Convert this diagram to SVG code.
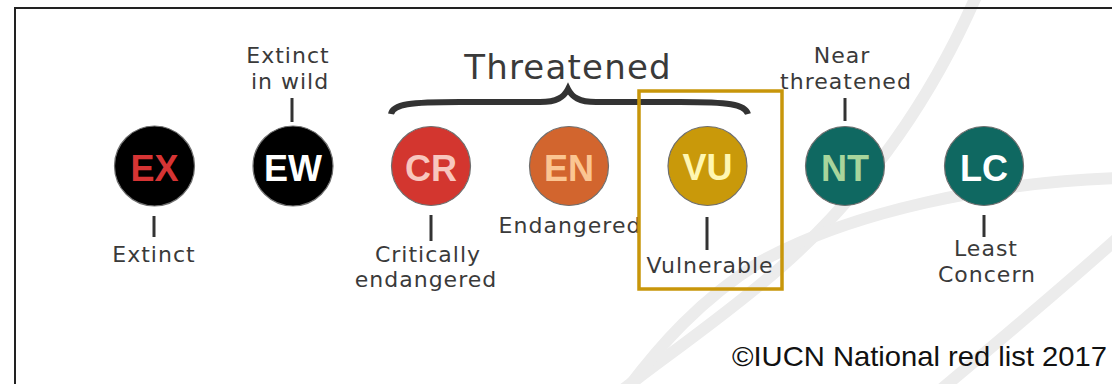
<svg xmlns="http://www.w3.org/2000/svg" width="1112" height="384" viewBox="0 0 1112 384">
  <style>
    .lbl { font-family: "DejaVu Sans", Verdana, sans-serif; font-size: 22px; letter-spacing: 1px; fill: #3a3a3a; text-anchor: middle; }
    .code { font-family: "Liberation Sans", Arial, sans-serif; font-weight: bold; font-size: 36px; text-anchor: middle; }
    .disc { stroke: #6f6f6f; stroke-width: 1.2; }
    .tick { stroke: #333; stroke-width: 3; fill: none; }
    .arc { fill: none; stroke: #ececec; stroke-width: 12; stroke-linecap: round; }
  </style>
  <rect width="1112" height="384" fill="#ffffff"/>
  <g id="background">
    <path class="arc" d="M 978 -8 C 940 80 880 180 780 268 C 720 320 660 360 620 392"/>
    <path class="arc" d="M 1120 178 C 990 182 850 212 760 262 C 700 300 660 345 625 392"/>
    <path class="arc" d="M 1120 236 C 1060 290 1000 340 938 392"/>
    <path d="M 15 392 L 15 8 L 1120 8" fill="none" stroke="#222" stroke-width="2"/>
  </g>
  <g id="connectors">
    <line class="tick" x1="292" y1="98" x2="292" y2="122"/>
    <line class="tick" x1="845" y1="98" x2="845" y2="121"/>
    <line class="tick" x1="154" y1="216" x2="154" y2="237"/>
    <line class="tick" x1="431" y1="215" x2="431" y2="241"/>
    <line class="tick" x1="707" y1="217" x2="707" y2="250"/>
    <line class="tick" x1="984" y1="215" x2="984" y2="237"/>
  </g>
  <g id="threatened">
    <text class="lbl" x="568" y="79" style="font-size:34px;letter-spacing:1.2px">Threatened</text>
    <path d="M 391 114 C 393 104 410 102 460 102 L 540 102 C 557 102 564 97 568 89 C 572 97 579 102 596 102 L 680 102 C 728 102 745 104 748 114" fill="none" stroke="#333" stroke-width="6"/>
  </g>
  <g id="EX">
    <circle class="disc" cx="154.5" cy="166" r="40" fill="#000"/>
    <text class="code" x="154.5" y="181" fill="#D63434">EX</text>
    <text class="lbl" x="154" y="262">Extinct</text>
  </g>
  <g id="EW">
    <circle class="disc" cx="293" cy="166" r="40" fill="#000"/>
    <text class="code" x="293" y="181" fill="#ffffff">EW</text>
    <text class="lbl" x="288" y="63">Extinct</text>
    <text class="lbl" x="290" y="89">in wild</text>
  </g>
  <g id="CR">
    <circle class="disc" cx="431" cy="166" r="39.5" fill="#D3362F"/>
    <text class="code" x="431" y="181" fill="#F8C6BE">CR</text>
    <text class="lbl" x="428" y="262">Critically</text>
    <text class="lbl" x="426" y="287">endangered</text>
  </g>
  <g id="EN">
    <circle class="disc" cx="569" cy="166" r="39.5" fill="#D2652E"/>
    <text class="code" x="569" y="181" fill="#FBC592">EN</text>
    <text class="lbl" x="570" y="233">Endangered</text>
  </g>
  <g id="VU">
    <rect x="639" y="91" width="143" height="198" fill="none" stroke="#C8960A" stroke-width="3.5"/>
    <circle class="disc" cx="707.5" cy="166" r="39.5" fill="#C9990A"/>
    <text class="code" x="707.5" y="180" fill="#FFF7B2">VU</text>
    <text class="lbl" x="710" y="273">Vulnerable</text>
  </g>
  <g id="NT">
    <circle class="disc" cx="845" cy="166" r="39.5" fill="#0F6861"/>
    <text class="code" x="845" y="181" fill="#A8D59C">NT</text>
    <text class="lbl" x="842" y="63">Near</text>
    <text class="lbl" x="846" y="89">threatened</text>
  </g>
  <g id="LC">
    <circle class="disc" cx="984" cy="166" r="39.5" fill="#0F6861"/>
    <text class="code" x="984" y="181" fill="#ffffff">LC</text>
    <text class="lbl" x="986" y="256">Least</text>
    <text class="lbl" x="987" y="282">Concern</text>
  </g>
  <text x="732" y="366" font-family="'Liberation Sans', Arial, sans-serif" font-size="28" fill="#111" textLength="375" lengthAdjust="spacingAndGlyphs">©IUCN National red list 2017</text>
</svg>
